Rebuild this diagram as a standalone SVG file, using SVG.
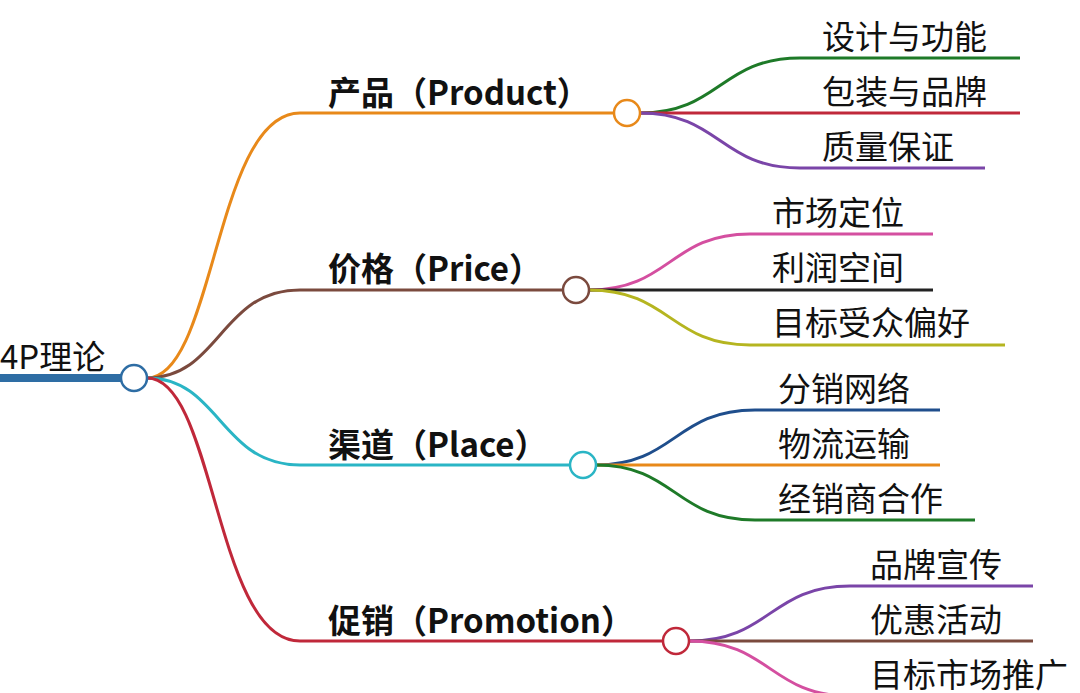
<svg xmlns="http://www.w3.org/2000/svg" width="1080" height="693" viewBox="0 0 1080 693">
<style>
.t{font-family:"Noto Sans CJK SC","Noto Sans",sans-serif;font-size:33px;fill:#111}
.b{font-weight:bold}
.c{fill:none;stroke-width:3}
.n{fill:#fff;stroke-width:2.5}
</style>
<rect width="1080" height="693" fill="#fff"/>
<g id="connectors" fill="none">
<path d="M0 378H121" stroke="#2e6da4" stroke-width="8"/>
<path class="c" stroke="#e8891a" d="M147 378C215 378 215 113 300 113H614"/>
<path class="c" stroke="#7b4a3e" d="M147 378C220 378 220 290 300 290H563"/>
<path class="c" stroke="#2ab5c5" d="M147 378C220 378 220 465 300 465H570"/>
<path class="c" stroke="#c0283a" d="M147 378C215 378 215 641 300 641H663"/>
<path class="c" stroke="#1e7a28" d="M640 113C720 113 720 58 800 58H1020"/>
<path class="c" stroke="#c0283a" d="M640 113H1020"/>
<path class="c" stroke="#7a45a8" d="M640 113C720 113 720 168 800 168H985"/>
<path class="c" stroke="#d44fa0" d="M589 290C670 290 670 234 750 234H933"/>
<path class="c" stroke="#222" d="M589 290H933" stroke-width="2"/>
<path class="c" stroke="#b5b520" d="M589 290C670 290 670 345 750 345H1005"/>
<path class="c" stroke="#1f4e8c" d="M596 465C675 465 675 410 755 410H940"/>
<path class="c" stroke="#e8891a" d="M596 465H940"/>
<path class="c" stroke="#1e7a28" d="M596 465C675 465 675 520 755 520H975"/>
<path class="c" stroke="#7a45a8" d="M689 641C770 641 770 586 850 586H1033"/>
<path class="c" stroke="#7b4a3e" d="M689 641H1033"/>
<path class="c" stroke="#d44fa0" d="M689 641C770 641 770 696 850 696H1040"/>
</g>
<g id="root"><circle class="n" cx="134" cy="378" r="13" stroke="#2e6da4"/><text class="t" x="0" y="369">4P理论</text></g>
<g id="product"><circle class="n" cx="627" cy="113" r="13" stroke="#e8891a"/><text class="t b" x="328" y="105">产品（Product）</text></g>
<g id="price"><circle class="n" cx="576" cy="290" r="13" stroke="#7b4a3e"/><text class="t b" x="328" y="281">价格（Price）</text></g>
<g id="place"><circle class="n" cx="583" cy="465" r="13" stroke="#2ab5c5"/><text class="t b" x="328" y="457">渠道（Place）</text></g>
<g id="promotion"><circle class="n" cx="676" cy="641" r="13" stroke="#c0283a"/><text class="t b" x="328" y="633">促销（Promotion）</text></g>
<g id="leaves">
<text class="t" x="822" y="49">设计与功能</text>
<text class="t" x="822" y="104">包装与品牌</text>
<text class="t" x="822" y="159">质量保证</text>
<text class="t" x="772" y="225">市场定位</text>
<text class="t" x="772" y="280">利润空间</text>
<text class="t" x="772" y="335">目标受众偏好</text>
<text class="t" x="778" y="401">分销网络</text>
<text class="t" x="778" y="456">物流运输</text>
<text class="t" x="778" y="511">经销商合作</text>
<text class="t" x="870" y="577">品牌宣传</text>
<text class="t" x="870" y="632">优惠活动</text>
<text class="t" x="870" y="687">目标市场推广</text>
</g>
</svg>
